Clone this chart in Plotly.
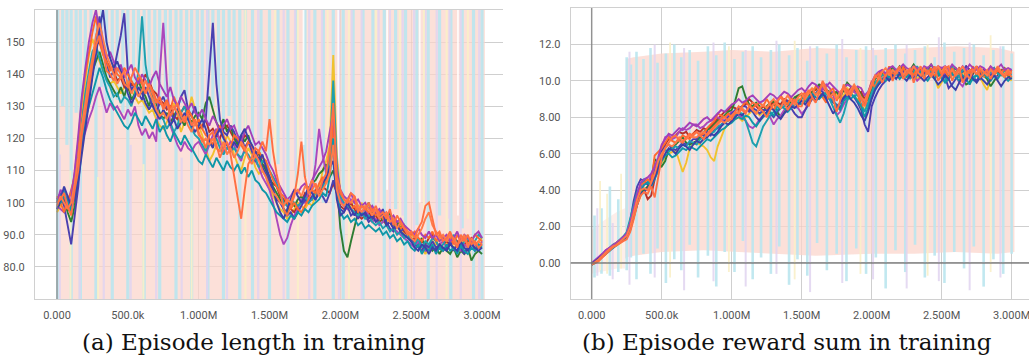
import plotly.graph_objects as go

# ---------------- data ----------------
steps_k = list(range(0, 3001, 25))  # logged training steps (thousands), 121 points

# (a) smoothed episode length, one list per run
len_orange = [100, 101, 103, 99, 96, 104, 110, 121, 128, 136,
              143, 149, 152, 147, 141, 140, 138, 142, 140, 137,
              136, 139, 142, 140, 138, 134, 137, 134, 131, 133,
              129, 131, 127, 129, 131, 127, 125, 128, 124, 126,
              121, 120, 117, 121, 122, 118, 114, 117, 119, 115,
              108, 101, 95, 104, 112, 114, 117, 116, 119, 116,
              126, 116, 109, 104, 98, 96, 99, 102, 109, 119,
              108, 103, 104, 106, 103, 107, 109, 117, 131, 108,
              104, 101, 100, 103, 102, 97, 99, 98, 100, 97,
              99, 96, 97, 95, 98, 93, 96, 94, 92, 90,
              91, 89, 92, 94, 99, 100, 95, 90, 91, 88,
              89, 91, 88, 86, 90, 88, 90, 87, 88, 86, 87]
len_indigo = [101, 103, 99, 93, 87, 96, 105, 118, 126, 133,
              140, 151, 158, 149, 144, 139, 141, 146, 152, 159,
              141, 135, 137, 134, 132, 136, 133, 130, 128, 131,
              133, 130, 128, 126, 129, 133, 135, 129, 127, 130,
              125, 123, 126, 140, 156, 137, 126, 122, 121, 124,
              122, 119, 121, 117, 119, 116, 113, 114, 111, 109,
              106, 104, 101, 100, 98, 96, 97, 95, 97, 99,
              101, 100, 102, 101, 103, 102, 100, 103, 107, 103,
              98, 97, 99, 96, 97, 95, 97, 96, 94, 95,
              97, 96, 98, 94, 92, 91, 93, 91, 92, 90,
              89, 87, 86, 85, 87, 86, 88, 86, 87, 85,
              86, 88, 85, 87, 86, 84, 86, 88, 85, 86, 87]
len_purple = [99, 98, 97, 100, 104, 108, 115, 119, 122, 126,
              129, 133, 136, 132, 128, 131, 129, 130, 128, 126,
              129, 127, 130, 124, 121, 123, 120, 122, 119, 140,
              156, 138, 124, 121, 118, 116, 119, 117, 116, 118,
              119, 117, 115, 118, 121, 123, 119, 116, 117, 119,
              118, 115, 113, 117, 119, 117, 113, 111, 108, 106,
              104, 100, 95, 90, 87, 89, 93, 96, 98, 101,
              100, 103, 105, 112, 123, 115, 109, 113, 116, 105,
              101, 99, 98, 101, 100, 99, 97, 98, 96, 94,
              95, 93, 94, 96, 95, 92, 91, 90, 89, 88,
              87, 86, 88, 86, 85, 87, 86, 85, 87, 88,
              86, 87, 88, 86, 85, 87, 86, 88, 87, 86, 88]
len_green = [98, 100, 101, 97, 94, 99, 108, 117, 127, 135,
             141, 144, 147, 143, 139, 137, 135, 133, 136, 133,
             137, 132, 134, 138, 135, 133, 130, 134, 131, 128,
             126, 128, 125, 127, 129, 126, 124, 127, 125, 127,
             128, 126, 131, 133, 129, 125, 123, 126, 122, 124,
             120, 118, 121, 119, 121, 117, 114, 116, 112, 110,
             108, 105, 103, 101, 98, 97, 100, 99, 101, 102,
             100, 103, 106, 107, 109, 110, 112, 108, 110, 106,
             92, 85, 83, 88, 93, 97, 99, 98, 100, 97,
             96, 97, 94, 95, 97, 93, 94, 92, 93, 90,
             89, 88, 87, 89, 86, 87, 85, 86, 84, 86,
             85, 84, 86, 83, 85, 84, 86, 82, 84, 85, 84]
len_teal = [100, 102, 104, 100, 98, 106, 116, 126, 134, 141,
            147, 149, 145, 141, 138, 136, 133, 134, 131, 133,
            132, 130, 134, 141, 158, 143, 136, 132, 129, 127,
            126, 123, 125, 122, 124, 128, 130, 126, 123, 121,
            120, 118, 116, 119, 118, 120, 117, 115, 117, 116,
            117, 115, 114, 116, 115, 113, 114, 111, 113, 112,
            110, 108, 106, 103, 100, 99, 101, 100, 99, 100,
            102, 100, 101, 103, 104, 105, 107, 115, 138, 112,
            102, 100, 99, 98, 97, 96, 97, 95, 96, 94,
            93, 94, 92, 93, 91, 92, 90, 91, 89, 90,
            88, 87, 89, 86, 88, 87, 89, 88, 86, 87,
            89, 88, 90, 87, 86, 88, 89, 87, 88, 90, 89]
len_gold = [97, 99, 100, 101, 99, 107, 117, 128, 138, 146,
            151, 148, 144, 141, 139, 137, 138, 136, 134, 136,
            138, 135, 133, 131, 132, 130, 128, 129, 126, 124,
            123, 125, 128, 131, 127, 122, 125, 128, 133, 129,
            124, 121, 117, 113, 115, 118, 120, 117, 121, 119,
            115, 112, 110, 114, 117, 115, 111, 109, 110, 108,
            104, 102, 100, 98, 97, 95, 96, 98, 100, 99,
            98, 100, 99, 102, 104, 110, 113, 118, 146, 115,
            103, 101, 100, 99, 101, 98, 100, 97, 99, 96,
            97, 95, 96, 94, 96, 93, 92, 93, 90, 91,
            90, 89, 87, 86, 84, 86, 88, 87, 89, 88,
            87, 88, 86, 87, 89, 86, 88, 87, 86, 88, 89]
len_red = [100, 100, 102, 98, 97, 103, 112, 124, 133, 140,
           146, 149, 150, 147, 144, 142, 141, 138, 139, 136,
           135, 137, 136, 139, 137, 140, 138, 135, 134, 132,
           131, 129, 130, 127, 126, 128, 130, 128, 127, 125,
           123, 124, 126, 122, 123, 121, 120, 123, 124, 122,
           120, 119, 118, 121, 120, 117, 116, 115, 112, 111,
           107, 106, 105, 102, 101, 99, 98, 97, 99, 100,
           103, 102, 101, 104, 103, 105, 104, 103, 106, 103,
           99, 98, 99, 100, 98, 96, 95, 96, 97, 95,
           96, 94, 95, 93, 94, 92, 93, 94, 91, 90,
           88, 89, 87, 88, 87, 89, 90, 88, 86, 87,
           88, 87, 89, 88, 86, 87, 88, 89, 87, 86, 86]
len_orange2 = [102, 100, 97, 101, 103, 109, 119, 132, 140, 147,
               153, 158, 150, 146, 144, 141, 143, 140, 139, 142,
               140, 138, 136, 139, 137, 134, 137, 135, 132, 131,
               130, 132, 129, 133, 130, 128, 126, 129, 127, 124,
               126, 123, 121, 120, 118, 122, 124, 121, 118, 117,
               121, 120, 118, 116, 119, 118, 114, 116, 114, 113,
               110, 107, 105, 103, 102, 100, 98, 100, 98, 97,
               99, 101, 104, 103, 106, 108, 106, 110, 125, 106,
               103, 101, 100, 98, 99, 97, 99, 98, 97, 98,
               96, 97, 95, 96, 94, 95, 93, 92, 93, 91,
               90, 91, 89, 88, 90, 89, 91, 88, 90, 89,
               88, 89, 87, 90, 88, 89, 87, 88, 90, 89, 88]
len_orange3 = [99, 102, 100, 98, 100, 106, 114, 124, 131, 139,
               145, 152, 156, 151, 146, 143, 140, 137, 139, 141,
               137, 134, 136, 133, 135, 138, 135, 132, 129, 127,
               128, 126, 129, 130, 128, 125, 127, 124, 122, 125,
               122, 119, 120, 118, 120, 117, 116, 119, 115, 117,
               114, 116, 119, 117, 114, 112, 115, 113, 110, 108,
               105, 103, 102, 100, 99, 101, 100, 103, 104, 102,
               105, 104, 107, 105, 102, 104, 106, 109, 118, 104,
               100, 99, 101, 100, 102, 99, 97, 99, 98, 96,
               98, 95, 96, 97, 94, 95, 92, 94, 92, 91,
               89, 88, 90, 92, 95, 97, 93, 91, 89, 90,
               88, 90, 89, 87, 88, 90, 86, 89, 87, 88, 87]
len_teal2 = [101, 100, 102, 101, 97, 102, 111, 120, 126, 130,
             134, 138, 142, 139, 135, 132, 130, 128, 126, 124,
             123, 125, 128, 126, 124, 127, 125, 123, 126, 122,
             124, 121, 119, 122, 120, 118, 121, 119, 117, 115,
             113, 112, 115, 113, 111, 114, 112, 110, 113, 111,
             110, 112, 109, 111, 108, 110, 107, 106, 104, 103,
             101, 99, 97, 96, 95, 94, 96, 95, 97, 96,
             98, 97, 99, 100, 101, 103, 102, 108, 120, 103,
             97, 95, 96, 94, 95, 93, 94, 92, 93, 92,
             91, 92, 90, 91, 89, 90, 88, 89, 87, 88,
             86, 85, 87, 84, 86, 85, 87, 84, 86, 85,
             87, 85, 86, 84, 87, 85, 84, 86, 85, 87, 86]
len_purple2 = [100, 104, 102, 99, 101, 110, 121, 133, 142, 150,
               156, 160, 153, 148, 145, 147, 144, 141, 143, 139,
               141, 143, 139, 137, 140, 138, 136, 139, 141, 137,
               135, 133, 136, 132, 130, 133, 131, 129, 131, 128,
               127, 129, 126, 124, 127, 125, 122, 124, 126, 123,
               124, 121, 119, 122, 124, 121, 118, 119, 117, 115,
               112, 110, 107, 105, 103, 101, 102, 104, 103, 105,
               106, 104, 107, 109, 111, 113, 116, 122, 128, 110,
               104, 102, 101, 103, 100, 101, 99, 100, 98, 99,
               97, 98, 96, 97, 95, 96, 94, 95, 93, 92,
               91, 90, 92, 90, 89, 91, 89, 90, 88, 89,
               90, 88, 89, 91, 88, 90, 89, 88, 90, 91, 89]
len_indigo2 = [98, 101, 105, 102, 99, 101, 107, 115, 123, 132,
               139, 146, 154, 160, 150, 145, 142, 144, 141, 138,
               134, 131, 133, 136, 134, 131, 129, 131, 128, 126,
               129, 127, 124, 126, 123, 125, 128, 126, 124, 122,
               124, 126, 123, 119, 117, 121, 123, 120, 118, 116,
               119, 117, 121, 123, 120, 118, 116, 113, 115, 111,
               108, 104, 100, 97, 95, 98, 101, 104, 102, 100,
               102, 105, 103, 101, 104, 106, 108, 111, 113, 101,
               96, 97, 100, 98, 96, 98, 96, 97, 95, 96,
               94, 95, 97, 93, 94, 92, 93, 91, 90, 89,
               88, 86, 85, 87, 86, 84, 86, 85, 87, 86,
               85, 87, 86, 85, 88, 86, 85, 87, 86, 85, 86]

# (b) smoothed episode reward sum, one list per run
rew_orange = [-0.1, 0.0, 0.1, 0.3, 0.5, 0.7, 0.85, 0.95, 1.1, 1.2,
              1.3, 1.7, 2.4, 3.2, 3.7, 3.9, 3.8, 4.2, 3.6, 4.8,
              5.8, 6.3, 6.6, 6.9, 7.0, 6.7, 6.6, 6.9, 7.1, 7.0,
              7.2, 7.0, 6.8, 7.1, 7.3, 7.5, 7.7, 7.9, 8.0, 7.8,
              7.9, 8.3, 8.6, 8.4, 8.2, 8.6, 8.8, 8.7, 8.5, 8.3,
              8.0, 8.4, 8.7, 8.9, 9.1, 8.8, 8.4, 8.7, 9.0, 8.6,
              8.6, 9.2, 9.5, 9.1, 8.8, 9.4, 10.0, 9.6, 9.2, 9.0,
              8.3, 8.9, 9.8, 9.4, 9.2, 9.7, 9.3, 9.0, 8.6, 9.2,
              9.7, 10.2, 10.4, 9.9, 10.3, 10.6, 10.0, 10.5, 10.8, 10.1,
              10.4, 10.7, 9.9, 10.5, 10.8, 10.1, 10.6, 10.3, 10.8, 10.0,
              10.3, 10.7, 10.8, 10.0, 10.4, 10.7, 9.9, 10.3, 10.6, 10.5,
              10.8, 10.2, 10.4, 10.6, 10.1, 10.5, 10.7, 10.4, 10.2, 10.5, 10.2]
rew_indigo = [0.0, 0.1, 0.3, 0.45, 0.6, 0.8, 0.95, 1.05, 1.2, 1.35,
              1.6, 2.3, 3.4, 4.2, 4.6, 4.5, 4.3, 4.6, 5.0, 5.5,
              6.1, 6.4, 6.5, 6.3, 6.2, 6.4, 6.6, 6.5, 6.6, 6.8,
              6.8, 7.1, 7.0, 7.2, 7.0, 7.3, 7.4, 7.6, 7.8, 8.0,
              8.2, 8.4, 8.5, 8.6, 8.6, 8.3, 8.5, 8.4, 8.2, 8.4,
              8.4, 8.2, 8.0, 8.3, 8.5, 8.8, 8.9, 8.5, 8.2, 8.0,
              8.0, 8.4, 8.7, 9.0, 9.3, 9.5, 9.4, 9.1, 9.0, 8.8,
              8.7, 8.5, 9.0, 9.2, 9.3, 9.1, 8.8, 8.4, 7.6, 7.2,
              8.6, 9.1, 9.5, 9.8, 10.0, 10.2, 10.4, 10.5, 10.4, 10.6,
              10.3, 10.5, 10.4, 10.6, 10.2, 10.5, 10.7, 10.4, 10.5, 10.7,
              10.4, 10.2, 9.6, 9.8, 10.1, 10.3, 10.5, 10.8, 10.6, 10.2,
              10.0, 10.3, 10.6, 10.4, 10.3, 10.5, 10.6, 10.4, 10.3, 10.5, 10.6]
rew_purple = [-0.05, 0.1, 0.25, 0.45, 0.7, 0.8, 0.95, 1.1, 1.3, 1.4,
              1.5, 2.1, 2.8, 3.5, 4.1, 4.3, 4.4, 4.8, 5.2, 5.6,
              6.4, 6.9, 7.0, 6.8, 6.9, 7.2, 7.4, 7.3, 7.4, 7.6,
              7.6, 7.4, 7.5, 7.7, 7.8, 7.9, 8.0, 7.9, 7.8, 8.1,
              8.3, 8.2, 8.1, 8.0, 7.8, 7.5, 7.4, 7.6, 7.9, 8.1,
              8.2, 8.0, 7.6, 7.9, 8.1, 8.4, 8.5, 8.7, 8.6, 8.5,
              8.2, 8.4, 8.9, 9.0, 9.3, 9.5, 9.6, 9.8, 9.6, 9.3,
              8.1, 8.3, 8.7, 9.0, 9.5, 9.4, 9.2, 9.0, 8.9, 8.6,
              9.2, 9.6, 9.9, 10.1, 10.3, 10.2, 10.1, 10.4, 10.6, 10.5,
              10.4, 10.2, 10.3, 10.0, 10.2, 10.5, 10.4, 10.3, 10.2, 10.4,
              10.2, 10.4, 10.6, 10.3, 10.4, 9.9, 9.7, 10.1, 10.5, 10.7,
              10.3, 10.1, 10.4, 10.5, 10.6, 10.3, 10.2, 10.4, 10.6, 10.5, 10.5]
rew_green = [-0.1, 0.05, 0.2, 0.35, 0.5, 0.7, 0.9, 1.0, 1.2, 1.3,
             1.4, 1.9, 2.6, 3.3, 3.8, 4.0, 4.2, 4.5, 5.7, 5.5,
             5.3, 5.6, 6.2, 6.4, 6.5, 6.7, 6.9, 6.6, 6.5, 6.6,
             6.7, 6.9, 7.2, 7.3, 7.4, 7.6, 7.8, 7.9, 8.1, 8.3,
             8.4, 8.9, 9.6, 9.7, 9.1, 8.7, 8.6, 8.8, 8.6, 8.3,
             8.6, 8.8, 8.9, 8.3, 8.0, 8.3, 8.6, 8.8, 9.1, 9.2,
             9.2, 8.9, 9.1, 9.4, 9.6, 9.8, 9.7, 9.5, 9.4, 9.3,
             9.4, 9.1, 9.5, 9.9, 9.7, 9.4, 9.6, 9.2, 8.8, 9.0,
             9.6, 10.1, 10.3, 10.4, 10.3, 10.5, 10.7, 10.5, 10.8, 10.6,
             10.4, 10.6, 10.9, 10.6, 10.4, 10.7, 10.6, 10.9, 10.6, 10.3,
             10.6, 10.3, 10.1, 10.5, 10.7, 10.4, 10.2, 9.8, 9.9, 10.5,
             10.7, 10.4, 10.3, 10.1, 9.7, 10.0, 10.3, 10.5, 10.7, 10.3, 10.1]
rew_teal = [0.0, 0.1, 0.25, 0.4, 0.6, 0.8, 1.0, 1.1, 1.25, 1.45,
            1.7, 2.4, 3.1, 3.9, 4.2, 4.6, 4.5, 4.3, 4.7, 5.0,
            6.0, 6.2, 6.1, 6.3, 6.4, 6.3, 6.5, 6.4, 6.7, 6.6,
            6.5, 6.8, 6.9, 7.0, 7.1, 7.2, 7.5, 7.6, 7.7, 7.8,
            7.9, 8.1, 8.3, 8.2, 7.8, 7.2, 6.6, 6.4, 7.0, 7.5,
            7.8, 8.1, 8.3, 8.6, 8.5, 8.6, 8.8, 8.7, 9.0, 8.9,
            9.0, 9.2, 9.1, 9.0, 9.3, 9.4, 9.2, 9.3, 9.0, 8.5,
            8.1, 7.7, 8.2, 8.9, 9.3, 9.1, 9.3, 8.7, 8.3, 8.8,
            9.4, 9.9, 10.1, 10.3, 10.4, 10.2, 10.6, 10.5, 10.3, 10.7,
            10.4, 10.1, 10.5, 10.8, 10.4, 10.2, 10.6, 10.5, 10.3, 10.6,
            10.1, 10.0, 10.5, 10.8, 10.4, 10.2, 10.6, 10.5, 10.3, 10.0,
            10.4, 10.6, 10.3, 10.2, 10.5, 10.7, 10.4, 10.3, 10.6, 10.4, 10.3]
rew_gold = [-0.05, 0.05, 0.15, 0.35, 0.55, 0.7, 0.85, 1.0, 1.1, 1.25,
            1.4, 1.8, 2.5, 3.2, 3.7, 4.0, 4.1, 4.5, 5.1, 5.3,
            5.5, 5.8, 6.0, 6.1, 6.2, 5.6, 5.0, 5.5, 6.3, 6.5,
            6.6, 6.5, 6.4, 6.2, 5.8, 5.6, 6.4, 6.9, 7.4, 7.6,
            7.8, 7.9, 8.0, 7.8, 8.0, 8.2, 8.4, 8.3, 8.1, 8.3,
            8.5, 8.7, 8.8, 8.6, 8.7, 8.9, 8.8, 8.7, 8.9, 9.0,
            9.0, 9.2, 9.4, 9.6, 9.5, 9.3, 9.1, 9.0, 9.2, 9.4,
            9.2, 9.0, 9.2, 9.6, 9.4, 9.1, 9.0, 8.7, 8.4, 8.9,
            9.3, 9.7, 10.0, 10.2, 10.4, 10.1, 10.5, 10.6, 10.3, 10.5,
            10.2, 10.4, 10.6, 10.1, 10.3, 10.5, 10.4, 10.6, 10.2, 9.6,
            9.9, 10.4, 10.6, 10.3, 10.5, 10.2, 10.4, 10.6, 10.3, 10.1,
            10.4, 10.2, 9.8, 9.5, 10.1, 10.4, 10.6, 10.3, 10.5, 10.2, 10.0]
rew_red = [-0.1, 0.0, 0.15, 0.3, 0.5, 0.65, 0.85, 1.0, 1.15, 1.25,
           1.35, 1.9, 2.7, 3.4, 3.9, 4.0, 3.5, 3.7, 4.6, 5.4,
           6.2, 6.5, 6.8, 6.9, 7.0, 7.2, 7.1, 7.2, 6.9, 7.1,
           7.3, 7.2, 7.4, 7.3, 7.5, 7.7, 7.9, 8.1, 8.3, 8.4,
           8.6, 8.5, 8.4, 8.6, 8.7, 9.0, 8.8, 8.6, 8.4, 8.6,
           8.4, 8.6, 8.9, 8.8, 8.7, 9.0, 8.9, 8.8, 9.0, 9.2,
           9.3, 9.1, 9.2, 9.4, 9.5, 9.7, 9.6, 9.4, 9.3, 9.2,
           9.4, 9.2, 9.5, 9.3, 9.6, 9.5, 9.3, 9.4, 9.0, 9.3,
           9.8, 10.2, 10.4, 10.5, 10.3, 10.6, 10.7, 10.5, 10.4, 10.8,
           10.5, 10.3, 10.7, 10.5, 10.6, 10.4, 10.7, 10.5, 10.2, 10.3,
           10.7, 10.5, 10.2, 10.6, 10.4, 10.7, 10.5, 10.8, 10.6, 10.4,
           10.8, 10.4, 10.6, 10.2, 10.5, 10.7, 10.4, 10.6, 10.3, 10.4, 10.4]
rew_orange2 = [-0.05, 0.1, 0.2, 0.4, 0.65, 0.8, 0.95, 1.05, 1.2, 1.35,
               1.55, 2.2, 2.9, 3.7, 4.3, 4.4, 4.6, 4.4, 5.9, 6.1,
               6.3, 6.6, 6.9, 6.7, 6.6, 6.8, 7.0, 6.9, 6.8, 7.1,
               7.2, 7.0, 7.1, 7.4, 7.6, 7.8, 8.2, 8.1, 8.0, 8.2,
               8.0, 8.2, 8.3, 8.6, 8.9, 8.6, 8.5, 8.7, 8.8, 8.6,
               9.0, 8.7, 8.4, 8.8, 9.2, 8.9, 8.7, 9.1, 8.8, 8.6,
               9.1, 9.4, 8.6, 9.2, 9.7, 9.5, 9.1, 8.8, 9.4, 9.6,
               8.9, 9.3, 9.7, 9.5, 9.3, 9.7, 9.4, 8.5, 8.9, 9.3,
               10.0, 9.6, 10.2, 10.6, 10.2, 10.8, 10.3, 10.6, 10.1, 10.8,
               10.2, 10.6, 10.3, 10.7, 10.1, 10.6, 10.4, 10.7, 10.2, 10.8,
               10.3, 10.6, 10.1, 10.7, 10.4, 10.6, 10.0, 10.6, 10.4, 10.8,
               10.3, 10.6, 10.2, 10.5, 10.8, 10.3, 10.6, 10.4, 10.7, 10.3, 10.6]
rew_orange3 = [-0.05, 0.05, 0.2, 0.4, 0.55, 0.75, 0.9, 1.0, 1.15, 1.3,
               1.5, 2.0, 2.7, 3.5, 4.0, 4.1, 4.0, 4.4, 4.9, 5.6,
               6.0, 6.3, 6.5, 6.4, 6.6, 6.9, 6.7, 6.8, 7.0, 6.9,
               6.9, 7.1, 7.2, 7.0, 7.2, 7.4, 7.6, 7.8, 7.7, 7.9,
               8.1, 8.3, 8.2, 8.5, 8.3, 8.6, 8.4, 8.2, 8.5, 8.7,
               8.5, 8.8, 9.0, 8.7, 8.5, 8.9, 9.2, 8.9, 8.7, 9.1,
               9.3, 9.0, 9.3, 9.6, 9.2, 9.5, 9.8, 9.4, 9.1, 9.3,
               9.0, 9.4, 9.6, 9.2, 9.5, 9.8, 9.5, 9.1, 8.9, 9.4,
               9.9, 10.3, 10.1, 10.5, 10.7, 10.3, 10.6, 10.4, 10.7, 10.3,
               10.6, 10.4, 10.8, 10.5, 10.3, 10.7, 10.5, 10.2, 10.6, 10.8,
               10.5, 10.8, 10.4, 10.6, 10.3, 10.5, 10.8, 10.4, 10.1, 10.6,
               10.4, 10.7, 10.5, 10.3, 10.6, 10.4, 10.8, 10.5, 10.3, 10.6, 10.4]
rew_teal2 = [-0.1, 0.05, 0.2, 0.35, 0.5, 0.7, 0.85, 1.0, 1.1, 1.25,
             1.4, 1.8, 2.5, 3.3, 3.9, 4.3, 4.4, 4.2, 4.6, 5.1,
             5.6, 5.9, 6.0, 5.8, 5.9, 6.1, 6.3, 6.2, 6.4, 6.3,
             6.2, 6.4, 6.6, 6.8, 6.7, 6.9, 7.1, 7.3, 7.4, 7.6,
             7.7, 7.9, 8.0, 7.9, 8.1, 8.0, 7.7, 7.5, 7.8, 8.0,
             8.2, 8.3, 8.1, 8.4, 8.6, 8.5, 8.3, 8.5, 8.7, 8.8,
             8.7, 8.9, 9.1, 9.3, 9.1, 9.0, 9.2, 9.4, 9.2, 8.9,
             8.6, 8.4, 8.9, 9.1, 9.0, 9.2, 8.9, 8.6, 8.0, 8.5,
             9.1, 9.6, 9.9, 10.1, 10.0, 10.3, 10.2, 10.4, 10.1, 10.3,
             10.2, 10.4, 10.1, 10.3, 10.5, 10.2, 10.0, 10.3, 10.1, 10.4,
             10.2, 9.9, 10.1, 10.4, 10.2, 10.0, 10.3, 10.1, 9.8, 10.2,
             10.3, 10.1, 10.4, 10.2, 10.0, 10.3, 10.1, 10.4, 10.2, 10.0, 10.2]
rew_purple2 = [0.0, 0.15, 0.3, 0.5, 0.7, 0.85, 1.0, 1.1, 1.25, 1.4,
               1.6, 2.2, 3.0, 3.8, 4.4, 4.6, 4.7, 4.9, 5.3, 5.8,
               6.5, 6.8, 7.1, 7.0, 7.2, 7.4, 7.3, 7.5, 7.7, 7.6,
               7.5, 7.7, 7.9, 8.0, 7.8, 8.0, 8.2, 8.4, 8.3, 8.5,
               8.7, 8.8, 9.0, 8.8, 8.9, 9.1, 9.2, 9.0, 8.8, 8.9,
               9.1, 9.3, 9.2, 9.0, 9.2, 9.4, 9.3, 9.1, 9.3, 9.5,
               9.6, 9.4, 9.7, 9.9, 9.8, 9.6, 9.5, 9.7, 9.9, 9.7,
               9.5, 9.3, 9.6, 9.8, 9.7, 9.5, 9.7, 9.6, 9.2, 9.4,
               9.9, 10.3, 10.5, 10.6, 10.4, 10.7, 10.8, 10.6, 10.7, 10.9,
               10.7, 10.6, 10.8, 10.7, 10.5, 10.8, 10.7, 10.9, 10.6, 10.8,
               10.7, 10.8, 10.6, 10.9, 10.7, 10.5, 10.8, 10.6, 10.9, 10.7,
               10.6, 10.8, 10.7, 10.5, 10.8, 10.6, 10.7, 10.9, 10.6, 10.7, 10.6]
rew_indigo2 = [-0.05, 0.1, 0.25, 0.4, 0.55, 0.7, 0.9, 1.05, 1.2, 1.3,
               1.45, 2.0, 2.6, 3.3, 3.8, 3.9, 4.1, 4.3, 4.7, 5.2,
               5.7, 6.0, 6.3, 6.2, 6.0, 6.3, 6.5, 6.4, 6.2, 6.5,
               6.7, 6.6, 6.8, 6.9, 7.1, 7.0, 7.2, 7.5, 7.7, 7.6,
               7.8, 8.0, 8.2, 8.1, 8.3, 8.5, 8.3, 8.0, 7.8, 8.1,
               8.3, 8.5, 8.4, 8.1, 7.9, 8.2, 8.4, 8.6, 8.5, 8.7,
               8.9, 8.7, 9.0, 9.2, 8.9, 9.1, 9.3, 9.0, 8.6, 8.2,
               8.5, 8.8, 9.1, 9.3, 9.0, 8.8, 8.5, 8.1, 7.8, 8.3,
               9.0, 9.5, 9.8, 10.0, 10.2, 10.0, 10.3, 10.1, 10.4, 10.2,
               10.0, 10.3, 10.1, 10.4, 10.2, 10.0, 10.2, 10.4, 10.1, 9.8,
               10.0, 10.3, 10.1, 9.7, 9.5, 9.9, 10.2, 10.0, 10.3, 10.1,
               9.9, 10.2, 10.0, 9.8, 10.1, 10.3, 10.0, 9.7, 10.0, 10.2, 10.1]

# raw (unsmoothed) data, faint in the background: envelopes and individual spikes
raw_len_env_k = [0, 500, 1000, 1500, 2000, 2500, 3020]
raw_len_lo = [62, 60, 61, 59, 60, 62, 60]
raw_len_hi = [170, 172, 168, 171, 169, 170, 172]

raw_len_cyan_k = [5, 40, 70, 100, 135, 165, 200, 240, 275, 315, 350, 390, 425, 465, 500, 540, 575, 615, 650, 690, 725, 765, 800, 840, 875, 915, 950, 990, 1025, 1065, 1100, 1140, 1175, 1215, 1250, 1290, 1330, 1380, 1440, 1500, 1560, 1630, 1690, 1750, 1820, 1880, 1950, 2020, 2090, 2160, 2230, 2310, 2390, 2460, 2540, 2620, 2700, 2780, 2860, 2940, 3000]
raw_len_cyan_lo = [64, 130, 118, 66, 128, 62, 135, 140, 64, 136, 130, 65, 132, 128, 63, 134, 138, 66, 130, 127, 64, 129, 133, 62, 131, 126, 65, 128, 124, 63, 130, 125, 64, 127, 122, 66, 120, 63, 110, 64, 112, 62, 105, 108, 63, 100, 64, 66, 96, 63, 95, 62, 98, 64, 93, 61, 96, 63, 92, 62, 64]
raw_len_cyan_hi = [166, 165, 167, 167, 166, 165, 168, 166, 165, 167, 166, 165, 168, 166, 167, 165, 166, 168, 165, 166, 167, 165, 168, 166, 165, 167, 166, 165, 168, 166, 165, 167, 166, 165, 168, 166, 165, 167, 166, 165, 168, 166, 165, 167, 166, 165, 168, 166, 165, 167, 166, 165, 168, 166, 165, 167, 166, 165, 168, 166, 165]

raw_len_lav_k = [20, 160, 330, 520, 700, 880, 1060, 1200, 1420, 1600, 1680, 1780, 1870, 1990, 2080, 2150, 2270, 2350, 2440, 2520, 2600, 2680, 2770, 2850, 2980]
raw_len_lav_lo = [63, 64, 62, 66, 63, 65, 62, 64, 63, 65, 110, 62, 105, 64, 98, 63, 100, 62, 96, 65, 99, 64, 95, 62, 64]
raw_len_lav_hi = [115, 108, 166, 118, 125, 114, 166, 120, 166, 167, 166, 166, 167, 168, 166, 166, 167, 167, 166, 166, 168, 168, 166, 166, 167]

raw_len_yel_k = [95, 290, 610, 950, 1330, 1540, 1700, 1910, 2060, 2250, 2420, 2590, 2750, 2900]
raw_len_yel_lo = [63, 64, 62, 65, 63, 112, 62, 108, 64, 100, 63, 97, 62, 95]
raw_len_yel_hi = [110, 108, 112, 104, 166, 166, 167, 167, 166, 168, 168, 166, 167, 167]

raw_len_white_k = [1740, 1985, 2330, 2560, 2830]
raw_len_white_lo = [118, 112, 104, 100, 96]
raw_len_white_hi = [166, 167, 166, 168, 166]

raw_rew_early_k = [0, 60, 120, 180, 238]
raw_rew_early_lo = [-0.6, -0.5, -0.4, -0.3, -0.3]
raw_rew_early_hi = [1.8, 2.2, 2.5, 2.8, 3.0]
raw_rew_env_k = [238, 245, 300, 500, 800, 1000, 1300, 1600, 2000, 2300, 2600, 2900, 3020]
raw_rew_lo = [0.2, 0.3, 0.4, 0.6, 0.7, 0.6, 0.5, 0.4, 0.5, 0.5, 0.6, 0.5, 0.6]
raw_rew_hi = [3.0, 11.2, 11.3, 11.5, 11.6, 11.7, 11.6, 11.8, 11.7, 11.8, 11.9, 11.8, 11.6]

raw_rew_cyan_k = [20, 70, 130, 190, 250, 280, 320, 370, 420, 470, 530, 590, 640, 700, 760, 830, 890, 950, 1020, 1080, 1150, 1210, 1280, 1340, 1410, 1470, 1540, 1610, 1680, 1750, 1820, 1890, 1960, 2030, 2100, 2170, 2240, 2310, 2380, 2450, 2520, 2590, 2660, 2730, 2800, 2870, 2940, 3000]
raw_rew_cyan_lo = [-0.8, -0.6, -0.7, -0.5, -0.4, 0.3, -0.9, 0.5, -0.6, 0.8, -1.1, 0.2, -0.4, 1.0, -0.8, 0.4, -1.3, 0.6, -0.5, 1.2, -0.9, 0.3, -0.6, 0.9, -1.2, 0.2, -0.7, 1.1, -0.4, 0.5, -1.0, 0.8, -0.6, 0.3, -1.4, 0.7, -0.5, 1.0, -0.8, 0.4, -1.1, 0.6, -0.3, 0.9, -1.3, 0.2, -0.6, 0.5]
raw_rew_cyan_hi = [2.6, 3.0, 4.2, 3.5, 11.3, 10.9, 11.6, 11.2, 11.8, 11.0, 11.5, 12.0, 11.3, 11.7, 11.1, 11.9, 11.4, 12.1, 11.2, 11.6, 11.9, 11.3, 11.7, 12.0, 11.4, 11.8, 11.1, 11.9, 11.5, 12.0, 11.3, 11.7, 11.9, 11.4, 11.8, 12.0, 11.5, 11.7, 11.9, 11.3, 12.1, 11.6, 11.8, 12.0, 11.4, 11.7, 11.9, 11.5]

raw_rew_lav_k = [40, 150, 270, 450, 660, 870, 1100, 1320, 1560, 1790, 2010, 2250, 2480, 2700, 2920]
raw_rew_lav_lo = [-0.7, -0.9, -1.2, -0.8, -1.5, -1.0, -1.3, -0.6, -1.6, -1.1, -0.9, -1.4, -1.0, -1.5, -0.8]
raw_rew_lav_hi = [3.0, 2.2, 11.6, 12.0, 11.8, 12.1, 11.7, 12.2, 11.9, 12.3, 11.8, 12.0, 12.4, 12.1, 11.9]

raw_rew_yel_k = [60, 110, 210, 560, 980, 1450, 1920, 2400, 2850]
raw_rew_yel_lo = [-0.4, -0.6, -0.3, -0.8, -0.5, -0.9, -0.6, -0.7, -0.5]
raw_rew_yel_hi = [4.5, 3.8, 4.9, 12.1, 11.9, 12.2, 11.8, 12.0, 12.5]

x_tickvals_k = [0, 500, 1000, 1500, 2000, 2500, 3000]
x_ticktext = ["0.000", "500.0k", "1.000M", "1.500M", "2.000M", "2.500M", "3.000M"]
len_tickvals = [80, 90, 100, 110, 120, 130, 140, 150]
len_ticktext = ["80.0", "90.0", "100", "110", "120", "130", "140", "150"]
rew_tickvals = [0, 2, 4, 6, 8, 10, 12]
rew_ticktext = ["0.00", "2.00", "4.00", "6.00", "8.00", "10.0", "12.0"]
captions = ["(a) Episode length in training", "(b) Episode reward sum in training"]

# ---------------- figure ----------------
W, H = 1029, 358
K = 1000
fig = go.Figure()


def band(xk, lo, hi, color, xa, ya):
    xs = [v * K for v in xk]
    fig.add_trace(go.Scatter(x=xs + xs[::-1], y=hi + lo[::-1], fill="toself",
                             fillcolor=color, line=dict(width=0), mode="lines",
                             hoverinfo="skip", showlegend=False, xaxis=xa, yaxis=ya))


def stripes(xk, lo, hi, color, width, xa, ya):
    sx, sy = [], []
    for s, l, h in zip(xk, lo, hi):
        sx += [s * K, s * K, None]
        sy += [l, h, None]
    fig.add_trace(go.Scatter(x=sx, y=sy, mode="lines", line=dict(color=color, width=width),
                             hoverinfo="skip", showlegend=False, xaxis=xa, yaxis=ya))


PINK = "rgba(251,212,202,0.72)"
CYAN = "rgba(186,230,238,0.9)"
LAV = "rgba(225,212,240,0.85)"
YEL = "rgba(250,240,200,0.9)"
WHITE = "rgba(255,255,255,0.85)"

# panel (a) background
band(raw_len_env_k, raw_len_lo, raw_len_hi, PINK, "x", "y")
stripes(raw_len_cyan_k, raw_len_cyan_lo, raw_len_cyan_hi, CYAN, 3.2, "x", "y")
stripes(raw_len_lav_k, raw_len_lav_lo, raw_len_lav_hi, LAV, 2.2, "x", "y")
stripes(raw_len_yel_k, raw_len_yel_lo, raw_len_yel_hi, YEL, 2, "x", "y")
stripes(raw_len_white_k, raw_len_white_lo, raw_len_white_hi, WHITE, 1.8, "x", "y")

# panel (b) background
band(raw_rew_early_k, raw_rew_early_lo, raw_rew_early_hi, "rgba(251,222,214,0.5)", "x2", "y2")
band(raw_rew_env_k, raw_rew_lo, raw_rew_hi, PINK, "x2", "y2")
stripes(raw_rew_cyan_k, raw_rew_cyan_lo, raw_rew_cyan_hi, CYAN, 2.6, "x2", "y2")
stripes(raw_rew_lav_k, raw_rew_lav_lo, raw_rew_lav_hi, LAV, 2, "x2", "y2")
stripes(raw_rew_yel_k, raw_rew_yel_lo, raw_rew_yel_hi, YEL, 1.8, "x2", "y2")

run_colors = ["#f2c12e", "#b5312a", "#2e7d32", "#ab47bc", "#4a3fb0", "#1e9fae",
              "#ff6a2e", "#a33fb8", "#0f97a8", "#3c3fa8", "#ff7b4a", "#ff7043"]
len_runs = [len_gold, len_red, len_green, len_purple, len_indigo, len_teal,
            len_orange2, len_purple2, len_teal2, len_indigo2, len_orange3, len_orange]
rew_runs = [rew_gold, rew_red, rew_green, rew_purple, rew_indigo, rew_teal,
            rew_orange2, rew_purple2, rew_teal2, rew_indigo2, rew_orange3, rew_orange]
xs = [v * K for v in steps_k]
for run, c in zip(len_runs, run_colors):
    fig.add_trace(go.Scatter(x=xs, y=run, mode="lines", line=dict(color=c, width=1.9),
                             showlegend=False, xaxis="x", yaxis="y"))
for run, c in zip(rew_runs, run_colors):
    fig.add_trace(go.Scatter(x=xs, y=run, mode="lines", line=dict(color=c, width=1.9),
                             showlegend=False, xaxis="x2", yaxis="y2"))

tickfont = dict(family="Roboto", size=11, color="#555")
axis_common = dict(showgrid=True, gridcolor="rgba(160,160,160,0.5)", gridwidth=1,
                   showline=True, linecolor="#d0d0d0", linewidth=1, ticks="",
                   tickfont=tickfont, zeroline=False, fixedrange=True,
                   ticklabeloverflow="allow")

fig.update_layout(
    width=W, height=H, margin=dict(l=0, r=0, t=0, b=0),
    paper_bgcolor="white", plot_bgcolor="white",
    xaxis=dict(domain=[35 / W, 503 / W], range=[-155300, 3148000], anchor="y",
               tickvals=[v * K for v in x_tickvals_k], ticktext=x_ticktext, mirror=True,
               ticklabelstandoff=6, **axis_common),
    yaxis=dict(domain=[(H - 299) / H, (H - 10) / H], range=[70, 160], anchor="x",
               tickvals=len_tickvals, ticktext=len_ticktext, ticklabelstandoff=7, **axis_common),
    xaxis2=dict(domain=[570.7 / W, 1.0], range=[-150000, 3124000], anchor="y2",
                tickvals=[v * K for v in x_tickvals_k], ticktext=x_ticktext, mirror=True,
                ticklabelstandoff=6, **axis_common),
    yaxis2=dict(domain=[(H - 299) / H, (H - 8) / H], range=[-1.98, 14.0], anchor="x2",
                tickvals=rew_tickvals, ticktext=rew_ticktext, ticklabelstandoff=7, **axis_common),
    shapes=[
        dict(type="line", xref="x", yref="y domain", x0=0, x1=0, y0=0, y1=1,
             line=dict(color="rgba(130,130,130,0.8)", width=1.5), layer="above"),
        dict(type="line", xref="x2", yref="y2 domain", x0=0, x1=0, y0=0, y1=1,
             line=dict(color="rgba(130,130,130,0.8)", width=1.5), layer="above"),
        dict(type="line", xref="x2 domain", yref="y2", x0=0, x1=1, y0=0, y1=0,
             line=dict(color="rgba(110,110,110,0.85)", width=1.5), layer="above"),
    ],
    annotations=[
        dict(text=captions[0], x=254 / W, y=(H - 342) / H, xref="paper", yref="paper",
             showarrow=False, xanchor="center", yanchor="middle",
             font=dict(family="DejaVu Serif", size=23, color="#111")),
        dict(text=captions[1], x=787 / W, y=(H - 342) / H, xref="paper", yref="paper",
             showarrow=False, xanchor="center", yanchor="middle",
             font=dict(family="DejaVu Serif", size=23, color="#111")),
    ],
)

fig.write_html("out.html", config={"displayModeBar": False},
               post_script="document.body.style.margin='0px';"
                           "document.documentElement.style.overflow='hidden';")
